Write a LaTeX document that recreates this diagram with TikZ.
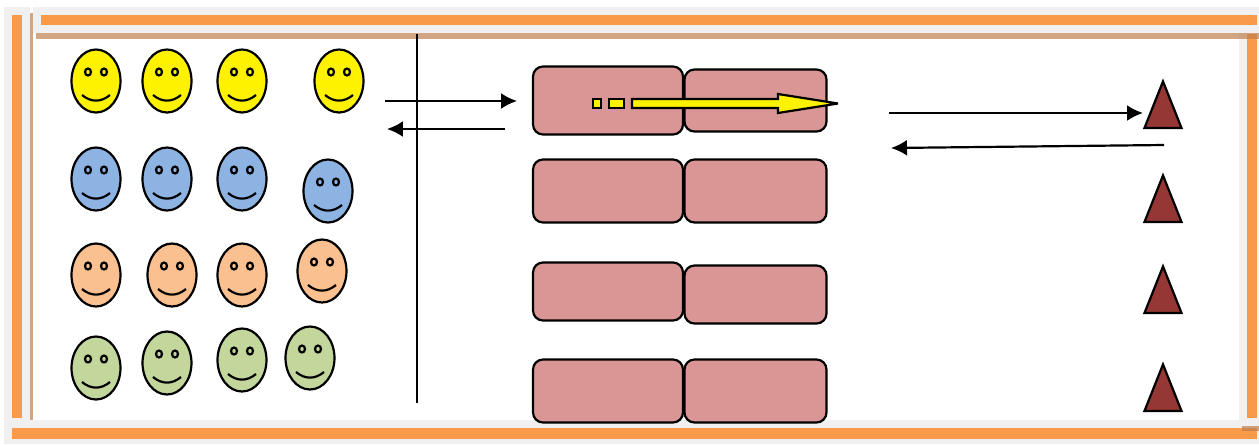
\documentclass[tikz,border=0pt]{standalone}
\usetikzlibrary{shapes.geometric,arrows.meta}
\definecolor{cadre}{HTML}{F99A4A}
\definecolor{bande}{HTML}{F0F0F0}
\definecolor{liseret}{HTML}{BF7F4F}
\definecolor{bleu}{HTML}{8DB3E2}
\definecolor{peche}{HTML}{FAC090}
\definecolor{vert}{HTML}{C3D69B}
\definecolor{rose}{HTML}{D99694}
\definecolor{brique}{HTML}{953735}
\tikzset{
  trait/.style={line width=1.25pt},
  fleche/.style={trait,-{Latex[length=0.32cm,width=0.32cm]}},
  case/.style={draw,trait,fill=rose,rounded corners=0.2cm,minimum width=#1,inner sep=0pt},
  tete/.style={draw,trait,fill=brique,isosceles triangle,shape border rotate=90,isosceles triangle stretches=true,minimum width=0.74cm,minimum height=0.93cm,inner sep=0pt,anchor=lower side},
  visage/.style={draw,trait,ellipse,fill=#1,minimum width=0.98cm,minimum height=1.26cm,inner sep=0pt},
  smiley/.pic={
    \node[visage=#1] (-face) at (0,0) {};
    \draw[trait,fill=none] (-8,-9) ellipse (3 and 3.5);
    \draw[trait,fill=none] (8,-9) ellipse (3 and 3.5);
    \draw[trait] (-14,14) .. controls (-5,21.5) and (5,21.5) .. (14,14);
  }
}
\begin{document}
\begin{tikzpicture}[x=0.02cm,y=-0.02cm]
\useasboundingbox (0,0) rectangle (1259,444);
% bandes du cadre
\fill[bande] (4,7) rectangle (30,444);
\fill[bande] (33,7) rectangle (1259,33);
\fill[bande] (4,420) rectangle (1259,444);
\fill[bande] (1239,33) rectangle (1259,420);
\fill[cadre] (12,15) rectangle (22,418);
\fill[cadre] (41,15) rectangle (1257,25);
\fill[cadre] (1247,34) rectangle (1257,418);
\fill[cadre] (12,428) rectangle (1257,439);
\fill[liseret,opacity=0.7] (30,13) rectangle (33,420);
\fill[liseret,opacity=0.7] (36,33) rectangle (1259,39);
\fill[liseret,opacity=0.7] (1242,426) rectangle (1259,431);
% visages
\pic (j1) at (96,81) {smiley=yellow};
\pic (j2) at (167,81) {smiley=yellow};
\pic (j3) at (242,81) {smiley=yellow};
\pic (j4) at (339,81) {smiley=yellow};
\pic (b1) at (96,179) {smiley=bleu};
\pic (b2) at (167,179) {smiley=bleu};
\pic (b3) at (242,179) {smiley=bleu};
\pic (b4) at (328,191) {smiley=bleu};
\pic (p1) at (96,275) {smiley=peche};
\pic (p2) at (172,275) {smiley=peche};
\pic (p3) at (242,275) {smiley=peche};
\pic (p4) at (322,271) {smiley=peche};
\pic (v1) at (96,368) {smiley=vert};
\pic (v2) at (167,363) {smiley=vert};
\pic (v3) at (242,360) {smiley=vert};
\pic (v4) at (310,358) {smiley=vert};
% separation
\coordinate (hautsep) at (417,34);
\coordinate (bassep) at (417,403);
\draw[trait] (hautsep)--(bassep);
% cases
\node[case=2.84cm,minimum height=1.24cm] (d1) at (755.5,100.5) {};
\node[case=3cm,minimum height=1.36cm] (g1) at (608,100.5) {};
\node[case=2.84cm,minimum height=1.26cm] (d2) at (755.5,191) {};
\node[case=3cm,minimum height=1.26cm] (g2) at (608,191) {};
\node[case=2.84cm,minimum height=1.16cm] (d3) at (755.5,294.5) {};
\node[case=3cm,minimum height=1.16cm] (g3) at (608,291.5) {};
\node[case=2.84cm,minimum height=1.26cm] (d4) at (755.5,391) {};
\node[case=3cm,minimum height=1.26cm] (g4) at (608,391) {};
% grande fleche jaune
\draw[trait,fill=yellow] (593,99) rectangle (601,108);
\draw[trait,fill=yellow] (609,99) rectangle (624,108);
\draw[trait,fill=yellow,miter limit=2] (632,99)--(778,99)--(778,94)--(838,103.5)--(778,113)--(778,108)--(632,108)--cycle;
% triangles
\node[tete] (t1) at (1163,129) {};
\node[tete] (t2) at (1163,223) {};
\node[tete] (t3) at (1163,314) {};
\node[tete] (t4) at (1163,412) {};
% fleches
\coordinate (a1) at (385,101);
\coordinate (a2) at (517,101);
\coordinate (r1) at (505,129);
\coordinate (r2) at (387,129);
\coordinate (a3) at (889,113);
\coordinate (a4) at (1143,113);
\coordinate (r3) at (1164,145);
\coordinate (r4) at (891,148);
\draw[fleche] (a1)--(a2);
\draw[fleche] (r1)--(r2);
\draw[fleche] (a3)--(a4);
\draw[fleche] (r3)--(r4);
\end{tikzpicture}
\end{document}
